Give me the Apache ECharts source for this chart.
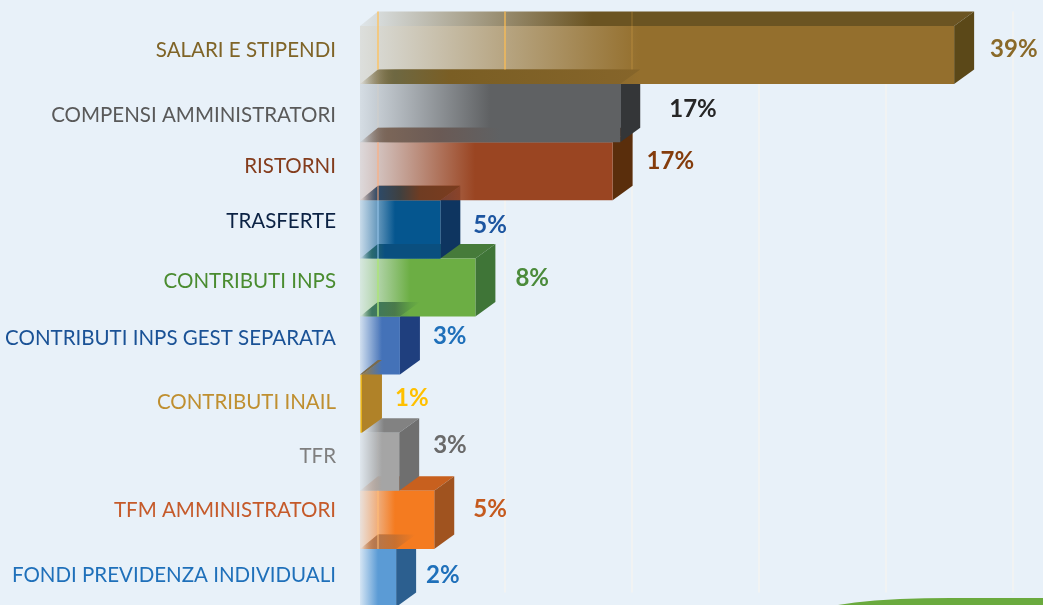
<!DOCTYPE html>
<html>
<head>
<meta charset="utf-8">
<style>
html,body{margin:0;padding:0;background:#e8f1f9;}
#chart{width:1043px;height:605px;}
</style>
<script src="https://cdn.jsdelivr.net/npm/echarts@6/dist/echarts.min.js"></script>
</head>
<body>
<div id="chart"></div>
<script>
// --- data ---
const categories = ['SALARI E STIPENDI','COMPENSI AMMINISTRATORI','RISTORNI','TRASFERTE','CONTRIBUTI INPS','CONTRIBUTI INPS GEST SEPARATA','CONTRIBUTI INAIL','TFR','TFM AMMINISTRATORI','FONDI PREVIDENZA INDIVIDUALI'];
const barLengths = [39.1, 17.2, 16.7, 5.4, 7.7, 2.75, 0.26, 2.7, 5.0, 2.5];
const valueLabels = ['39%','17%','17%','5%','8%','3%','1%','3%','5%','2%'];

// --- styles and layout ---
const frontColors = ['#946f2d','#5f6163','#9a4522','#05568f','#6cae44','#4472b8','#e8b010','#a5a5a5','#f47b20','#5b9bd5'];
const topColors   = ['#6b5422','#735a26','#5a3010','#7b3c1e','#467b3a','#4a7a5a','#a08440','#828282','#c8601e','#ad7650'];
const sideColors  = ['#5b4818','#343638','#5a2e0c','#0e3560','#3f7537','#1f3f7e','#b08228','#6f6f6f','#a0531f','#2c5f8f'];
const fadeWidths  = [280,130,115,35,50,22,1,22,35,18];
const topFadeWidths = [230,40,40,35,40,22,1,22,35,18];
const nameColors  = ['#7f6427','#595959','#843c1c','#0b2244','#4a8c30','#1a5296','#bf8f30','#7f7f7f','#c55a2a','#1f70ba'];
const valueColors = ['#8a6a29','#262626','#843c0c','#1c55a0','#4b8b3b','#1f70ba','#ffc000','#6a6a6a','#c55a1e','#1f70ba'];
const nameShift   = [9.5,17,10,7,8,7,13,9,5,11.5];
const valueDx     = [16,29,14,13,20,13,13,14,19,10];
const valueDy     = [9,10.5,4.5,10.5,5.5,5.5,9.5,-1.5,3.5,12];
// shading each bar's top face casts on the front of the bar above: [px from bar origin, colour]
const topShades = {
  1:[[4,'rgba(110,104,66,0)'],[37,'#6e6842'],[92,'#7a5e24'],[282,'#86652a']],
  2:[[4,'rgba(122,101,88,0)'],[32,'#7a6558'],[82,'#6a5a55'],[142,'#5f6163']],
  3:[[4,'rgba(45,74,104,0)'],[20,'#2d4a68'],[42,'#3f4040'],[62,'#6f3c22'],[102,'#7b3c1e']],
  4:[[4,'rgba(42,106,112,0)'],[14,'#2a6a70'],[27,'#0a4f7f'],[82,'#0a4f7f']],
  5:[[4,'rgba(62,120,96,0)'],[14,'#3e7860'],[37,'#4a7a4a'],[52,'#5f9f44'],[62,'#6cae44']],
  6:[[2,'#7a6a4a'],[24,'#7a6a4a']],
  9:[[4,'rgba(181,120,79,0)'],[17,'#b5784f'],[37,'#c8702f'],[57,'#f47b20']]
};
const tints = {
  0:[[0,'rgba(255,190,80,0.6)','back'],[1,'rgba(255,190,80,0.6)','back'],[2,'rgba(255,190,80,0.15)','back']],
  2:[[0,'rgba(255,170,120,0.5)','front']],
  3:[[0,'rgba(150,200,240,0.5)','front']],
  4:[[0,'rgba(170,230,120,0.7)','front']],
  8:[[0,'rgba(255,190,120,0.5)','front']]
};
const gridStep = 8.33;
const depthX = 20, depthY = 14.5, frontInset = 2;
const labelFont = 'Lato';

const richStyles = {};
categories.forEach((c, i) => {
  const s = nameShift[i];
  richStyles['c' + i] = {
    color: nameColors[i], fontFamily: labelFont, fontSize: 20.5,
    padding: [2 * s, 0, 0, 0]
  };
});

function fade(color, x0, width, low) {
  return {
    type: 'linear', global: true, x: x0, y: 0, x2: x0 + width, y2: 0,
    colorStops: [
      {offset: 0, color: echarts.color.modifyAlpha(color, low)},
      {offset: 1, color: color}
    ]
  };
}

function shadeFill(stops, origin) {
  const first = stops[0][0], last = stops[stops.length - 1][0];
  return {
    type: 'linear', global: true, x: origin + first, y: 0, x2: origin + last, y2: 0,
    colorStops: stops.map(s => ({offset: (s[0] - first) / (last - first), color: s[1]}))
  };
}

function renderBar(params, api) {
  const i = params.dataIndex;
  const end = api.coord([api.value(0), i]);
  const base = api.coord([0, i]);
  const h = api.size([0, 1])[1];
  const bx0 = base[0], bx1 = end[0];
  const bt = end[1] - h / 2, bb = end[1] + h / 2;
  const fx0 = bx0 - depthX, fx1 = bx1 - depthX;
  const ft = bt + depthY, fb = bb + depthY;
  const z = 200 - 10 * i;
  const children = [
    {type: 'polygon', z2: z, shape: {points: [[fx0 + frontInset, ft], [fx1, ft], [bx1, bt], [bx0, bt]]},
     style: {fill: fade(topColors[i], fx0 + 4, topFadeWidths[i], 0.08)}},
    {type: 'polygon', z2: z + 1, shape: {points: [[fx1, ft], [bx1, bt], [bx1, bb], [fx1, fb]]},
     style: {fill: sideColors[i]}},
    {type: 'rect', z2: z + 2, shape: {x: fx0 + frontInset, y: ft, width: fx1 - fx0 - frontInset, height: fb - ft},
     style: {fill: fade(frontColors[i], fx0 + frontInset, fadeWidths[i], 0.14)}}
  ];
  if (topShades[i]) {
    // drawn over the front of the bar above, and cut at that bar's right end
    const prevEnd = api.coord([barLengths[i - 1], i])[0] - depthX;
    children.push({type: 'polygon', z2: z + 13, shape: {points: [
      [fx0 + frontInset, ft], [Math.min(fx1, prevEnd), ft], [Math.min(bx1, prevEnd), bt], [bx0, bt]
    ]}, style: {fill: shadeFill(topShades[i], fx0)}});
  }
  (tints[i] || []).forEach(t => {
    const x = api.coord([t[0] * gridStep, i])[0];
    const back = t[2] === 'back';
    children.push({type: 'rect', z2: z + 15,
      shape: {x: x - 1, y: back ? bt : ft, width: 2, height: h},
      style: {fill: t[1]}});
  });
  children.push({type: 'text', z2: 1000, style: {
    text: valueLabels[i], x: bx1 + valueDx[i], y: end[1] + valueDy[i],
    fill: valueColors[i], font: 'bold 24px ' + labelFont,
    textAlign: 'left', textVerticalAlign: 'middle'
  }});
  return {type: 'group', children: children};
}

const chart = echarts.init(document.getElementById('chart'), null, {renderer: 'canvas'});
chart.setOption({
  backgroundColor: '#e8f1f9',
  animation: false,
  grid: {left: 378, top: 11.5, width: 635, height: 581},
  xAxis: {
    type: 'value', min: 0, max: gridStep * 5, interval: gridStep,
    axisLabel: {show: false}, axisLine: {show: false}, axisTick: {show: false},
    splitLine: {show: true, lineStyle: {color: '#f1f3f3', width: 2}}
  },
  yAxis: {
    type: 'category', inverse: true, data: categories,
    axisLine: {show: false}, axisTick: {show: false}, splitLine: {show: false},
    axisLabel: {
      interval: 0, margin: 42, align: 'right',
      formatter: (v, i) => '{c' + i + '|' + v + '}',
      rich: richStyles
    }
  },
  series: [{
    type: 'custom', clip: false, renderItem: renderBar,
    encode: {x: 0},
    data: barLengths.map(v => [v])
  }],
  graphic: [{
    type: 'polygon', z: 10,
    shape: {points: [[838,605],[855,602.5],[875,600.5],[900,599],[925,598.3],[950,598],[1043,598],[1043,605]]},
    style: {fill: '#6aaa3e'}
  }]
});
</script>
</body>
</html>
